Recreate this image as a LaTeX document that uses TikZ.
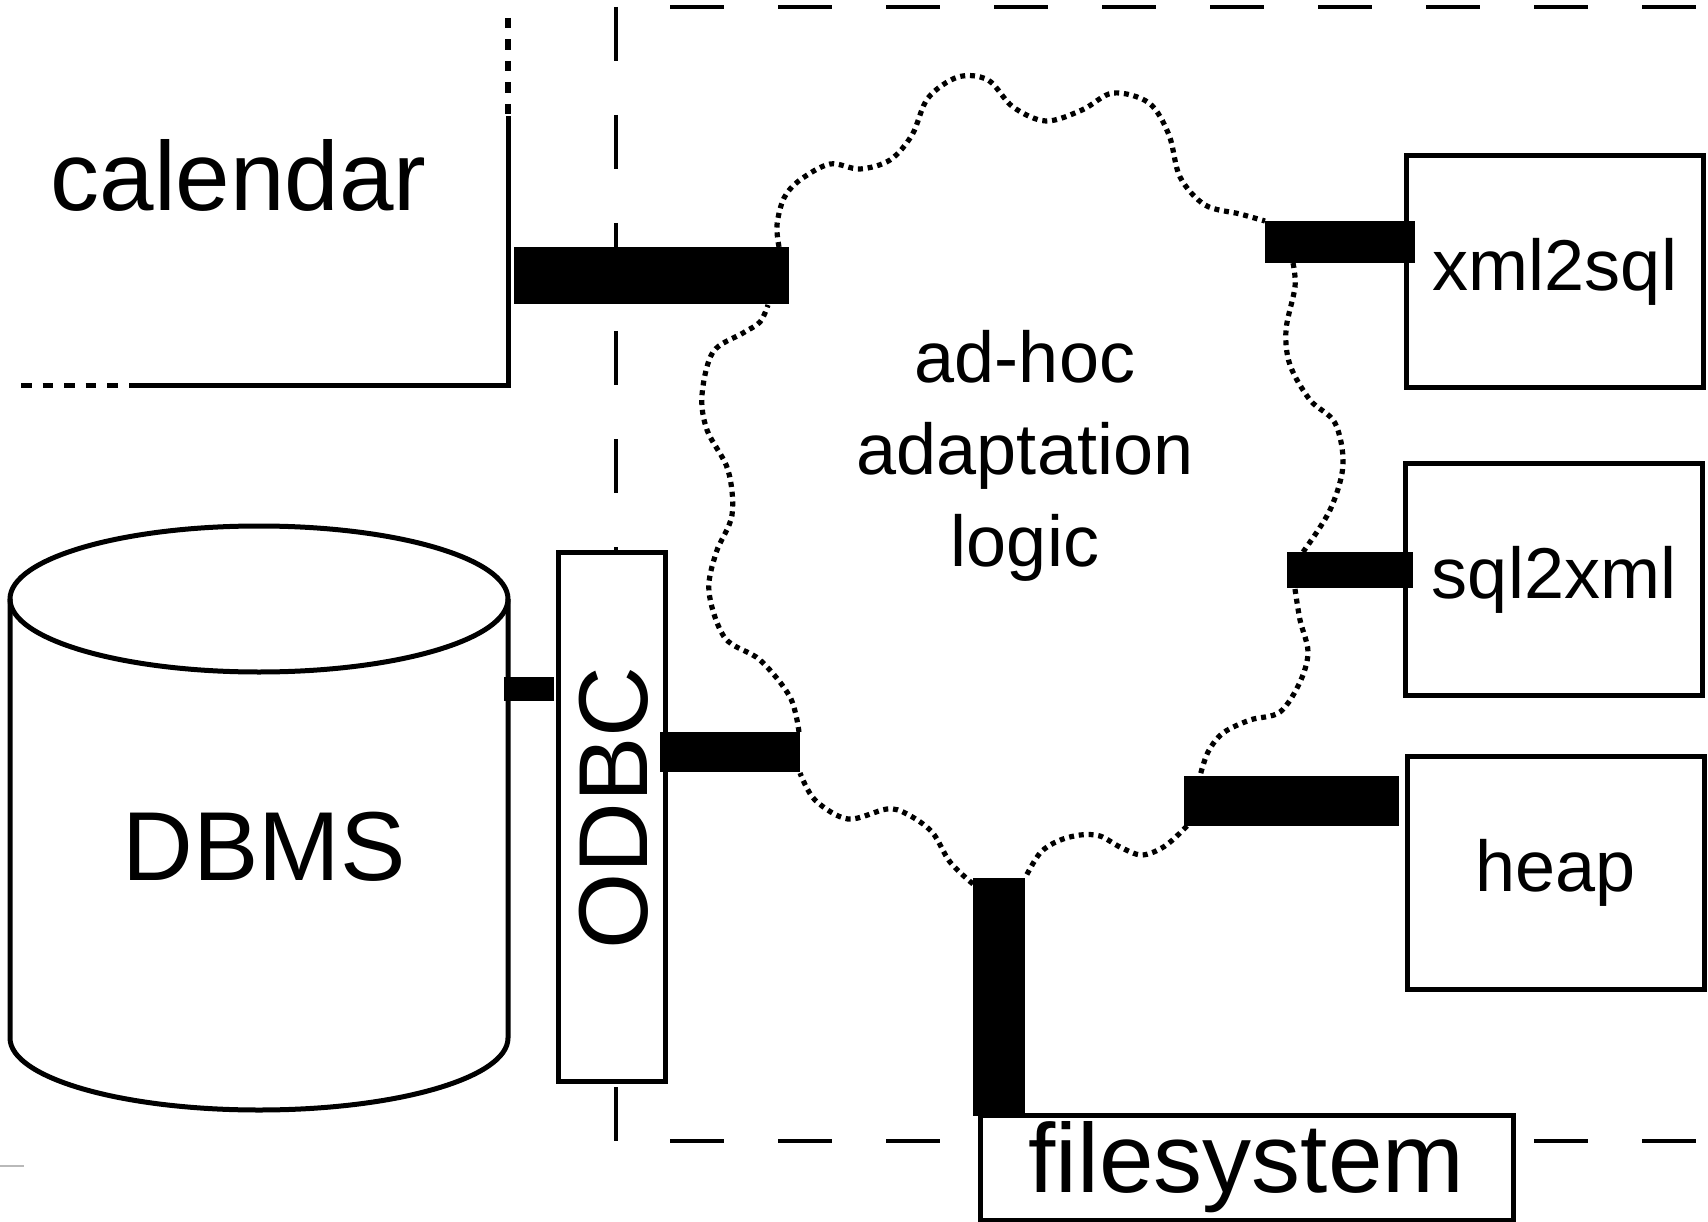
\documentclass[tikz,border=0pt]{standalone}
\usepackage{fontspec}
\setmainfont{Liberation Sans}
\newcommand{\bigtext}{\fontsize{98}{110}\selectfont}
\newcommand{\midtext}{\fontsize{72}{92}\selectfont}
\tikzset{
  outline/.style={line width=5pt},
  box/.style={draw, line width=5pt, fill=white, inner sep=0pt},
  frameline/.style={line width=4.8pt, dash pattern=on 54pt off 54pt},
  dotline/.style={line width=5.5pt, dash pattern=on 10.5pt off 11pt},
  cloudline/.style={line width=5.2pt, dash pattern=on 5pt off 4.8pt, smooth, tension=0.55},
  plug/.style={line width=#1},
}
\begin{document}
\begin{tikzpicture}[x=1pt, y=-1pt]
\useasboundingbox[fill=white] (0,0) rectangle (1708,1222);

% adaptation cloud, one dotted arc between each pair of plugs
\draw[cloudline] plot coordinates {(779,247) (777,225) (784,198) (800,180) (830,164) (860,169) (890,160) (912,135) (928,98) (958,77) (988,80) (1013,107) (1046,121) (1082,110) (1113,93) (1149,103) (1169,135) (1180,177) (1205,205) (1240,214) (1265,221)};
\draw[cloudline] plot coordinates {(1293,263) (1295,287) (1286,330) (1290,365) (1310,400) (1335,423) (1343,465) (1330,510) (1303,552)};
\draw[cloudline] plot coordinates {(1295,589) (1300,620) (1308,652) (1300,682) (1280,712) (1250,720) (1223,733) (1208,752) (1200,776)};
\draw[cloudline] plot coordinates {(1187,826) (1165,846) (1142,855) (1120,847) (1100,836) (1080,835) (1058,841) (1040,853) (1025,878)};
\draw[cloudline] plot coordinates {(973,884) (950,862) (932,832) (907,814) (887,809) (848,819) (815,800) (800,773)};
\draw[cloudline] plot coordinates {(799,732) (790,697) (760,660) (725,638) (709,592) (716,553) (732,515) (728,470) (707,430) (702,395) (713,352) (743,333) (760,322) (768,305)};

% system boundary
\draw[frameline] (670,7) -- (1708,7);
\draw[frameline] (616,7) -- (616,1141);
\draw[frameline] (670,1141) -- (1708,1141);
\draw[gray!55, line width=2.5pt] (0,1166) -- (24,1166);

% calendar, a partially shown component
\draw[outline] (508,116) -- (508,385.5) -- (129,385.5);
\draw[dotline] (508,18) -- (508,116);
\draw[dotline] (21,385.5) -- (118,385.5);
\node[font=\bigtext, anchor=base, inner sep=0pt] (calendar) at (238.5,211) {calendar};

% database cylinder
\draw[outline] (10,599) -- (10,1038)
  arc[start angle=180, end angle=360, x radius=249pt, y radius=72pt] -- (508,599);
\draw[outline] (259,599) ellipse [x radius=249pt, y radius=73pt];
\node[font=\bigtext, inner sep=0pt] (dbms) at (264,847) {DBMS};

% ODBC driver
\node[box, minimum width=107pt, minimum height=529pt] (odbc) at (612,817) {};
\node[font=\bigtext, rotate=90, inner sep=0pt] (odbclabel) at (614,808) {ODBC};

% tools on the right
\node[box, minimum width=297pt, minimum height=232pt, font=\midtext] (xml2sql) at (1555,271.5) {xml2sql};
\node[box, minimum width=297pt, minimum height=232pt, font=\midtext] (sql2xml) at (1554,579.5) {sql2xml};
\node[box, minimum width=297pt, minimum height=233pt, font=\midtext] (heap) at (1555.5,873) {heap};
\node[box, minimum width=533pt, minimum height=105pt, font=\bigtext] (filesystem) at (1246.5,1167.5) {filesystem};

% plugs into the adaptation logic
\coordinate (calA) at (514,275.5);   \coordinate (calB) at (789,275.5);
\coordinate (xsA) at (1265,242);     \coordinate (xsB) at (1415,242);
\coordinate (sxA) at (1287,570);     \coordinate (sxB) at (1413,570);
\coordinate (hpA) at (1184,801);     \coordinate (hpB) at (1399,801);
\coordinate (fsA) at (999,878);      \coordinate (fsB) at (999,1116);
\coordinate (odA) at (660,752);      \coordinate (odB) at (800,752);
\coordinate (dbA) at (504,689);      \coordinate (dbB) at (554,689);
\draw[plug=57pt] (calA) -- (calB);
\draw[plug=42pt] (xsA) -- (xsB);
\draw[plug=36pt] (sxA) -- (sxB);
\draw[plug=50pt] (hpA) -- (hpB);
\draw[plug=52pt] (fsA) -- (fsB);
\draw[plug=40pt] (odA) -- (odB);
\draw[plug=24pt] (dbA) -- (dbB);

% adaptation logic label
\node[font=\midtext, align=center, inner sep=0pt] (logic) at (1025,456) {ad-hoc\\adaptation\\logic};
\end{tikzpicture}
\end{document}
